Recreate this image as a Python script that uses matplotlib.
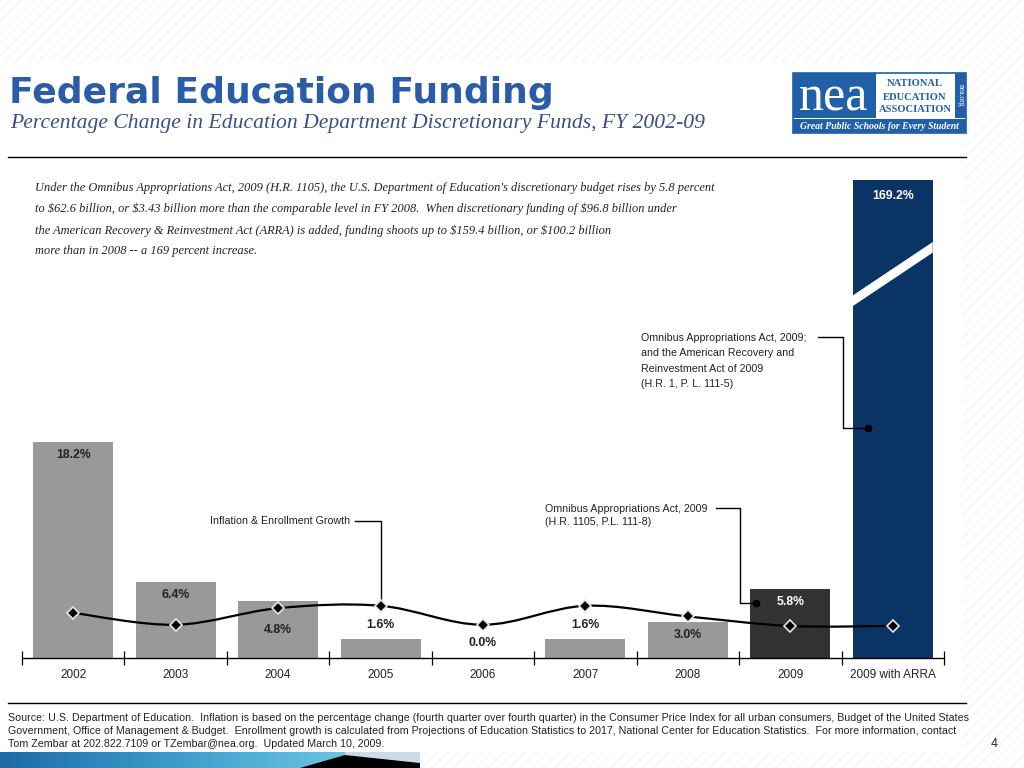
import numpy as np
import matplotlib
matplotlib.use("Agg")
import matplotlib.pyplot as plt
from matplotlib.path import Path
from matplotlib.patches import PathPatch, Rectangle, Polygon
from matplotlib.lines import Line2D
from matplotlib.colors import LinearSegmentedColormap

# ---------------- data ----------------
categories = ['2002', '2003', '2004', '2005', '2006', '2007', '2008', '2009', '2009 with ARRA']
funding_change = [18.2, 6.4, 4.8, 1.6, 0.0, 1.6, 3.0, 5.8, 169.2]
inflation_enrollment = [3.8, 2.8, 4.2, 4.4, 2.8, 4.4, 3.5, 2.7, 2.7]

# ---------------- layout / style ----------------
W, H = 1024, 768
SANS = 'Liberation Sans'
SERIF = 'Liberation Serif'
BAR_CAP = 40.3                      # axis break for the off-scale bar
bar_colors = ['#999999'] * 7 + ['#333333', '#0b3466']
label_colors = ['#222222'] * 7 + ['white', 'white']
label_y = [17.1, 5.3, 2.35, 2.8, 1.25, 2.8, 1.95, 4.7, 38.9]
BLUE = '#2b5ca8'

fig = plt.figure(figsize=(W / 100, H / 100), dpi=100)


def fx(x):
    return x / W


def fy(y):
    return 1 - y / H


# background hatch (template)
plt.rcParams['hatch.linewidth'] = 0.6
fig.add_artist(Rectangle((0, 0), 1, 1, transform=fig.transFigure, facecolor='white',
                         edgecolor='#f0f0f4', hatch='///', lw=0, zorder=-20))
fig.add_artist(Rectangle((fx(0), fy(700)), fx(962), (700 - 62) / H, transform=fig.transFigure,
                         facecolor='white', edgecolor='none', zorder=-19))
fig.add_artist(Rectangle((fx(0), fy(752)), fx(962), (752 - 700) / H, transform=fig.transFigure,
                         facecolor='white', edgecolor='none', zorder=-19))

# ---------------- main chart ----------------
ax = fig.add_axes([fx(22), fy(658), (944 - 22) / W, (658 - 159.5) / H])
ax.set_xlim(-0.5, 8.5)
ax.set_ylim(0, 42)
ax.patch.set_alpha(0)
xs = np.arange(len(categories))

heights = [min(v, BAR_CAP) for v in funding_change]
ax.bar(xs, heights, width=0.78, color=bar_colors, zorder=2)

# axis-break slash on the off-scale bar
i_brk = len(categories) - 1
x0, x1 = i_brk - 0.39, i_brk + 0.39
ya, yb, th = 30.1, 34.6, 0.45
ax.add_patch(Polygon([(x0, ya - th), (x1, yb - th), (x1, yb + th), (x0, ya + th)],
                     closed=True, facecolor='white', edgecolor='none', zorder=3))

for i, v in enumerate(funding_change):
    ax.text(xs[i], label_y[i], f'{v:.1f}%', ha='center', va='center', fontsize=8.8,
            fontweight='bold', color=label_colors[i], family=SANS, zorder=6)

# smooth inflation & enrollment line
pts = np.column_stack([xs, inflation_enrollment]).astype(float)
n = len(pts)
verts = [pts[0]]
codes = [Path.MOVETO]
for i in range(n - 1):
    p0 = pts[max(i - 1, 0)]
    p1 = pts[i]
    p2 = pts[i + 1]
    p3 = pts[min(i + 2, n - 1)]
    c1 = p1 + (p2 - p0) / 6.0
    c2 = p2 - (p3 - p1) / 6.0
    verts += [c1, c2, p2]
    codes += [Path.CURVE4] * 3
ax.add_patch(PathPatch(Path(verts, codes), fill=False, lw=1.6, edgecolor='black', zorder=4))
ax.plot(xs, inflation_enrollment, ls='none', marker='D', ms=6, mfc='black',
        mec='#e6e6e6', mew=1.2, zorder=5)

# axis
ax.set_xticks(xs)
ax.set_xticklabels(categories, family=SANS, fontsize=8.5, color='#222222')
ax.tick_params(axis='x', which='major', length=0, pad=8)
ax.set_xticks(np.arange(-0.5, len(categories), 1.0), minor=True)
ax.tick_params(axis='x', which='minor', length=10, width=0.9, direction='inout', color='black')
ax.set_yticks([])
for s in ['top', 'left', 'right']:
    ax.spines[s].set_visible(False)
ax.spines['bottom'].set_linewidth(1.0)

# annotations
ann_kw = dict(fontsize=7.7, family=SANS, color='#222222')
ax.text(2.70, 11.54, 'Inflation & Enrollment Growth', ha='right', va='center', **ann_kw)
ax.plot([2.75, 3, 3], [11.54, 11.54, inflation_enrollment[3]], color='black', lw=1,
        zorder=4, clip_on=False)

ax.text(4.605, 12.98, 'Omnibus Appropriations Act, 2009\n(H.R. 1105, P.L. 111-8)',
        ha='left', va='top', linespacing=1.35, **ann_kw)
ax.plot([6.27, 6.51, 6.51, 6.665], [12.64, 12.64, 4.63, 4.63], color='black', lw=1,
        zorder=4, clip_on=False)
ax.plot([6.665], [4.63], marker='o', ms=4.5, color='black', zorder=6)

ax.text(5.54, 27.4, 'Omnibus Appropriations Act, 2009;\nand the American Recovery and\n'
        'Reinvestment Act of 2009\n(H.R. 1, P. L. 111-5)',
        ha='left', va='top', linespacing=1.68, **ann_kw)
ax.plot([7.27, 7.51, 7.51, 7.76], [27.04, 27.04, 19.38, 19.38], color='black', lw=1,
        zorder=4, clip_on=False)
ax.plot([7.76], [19.38], marker='o', ms=4.5, color='black', zorder=6)

# ---------------- header ----------------
fig.text(fx(9), fy(103), 'Federal Education Funding', fontsize=26, fontweight='bold',
         color=BLUE, family='DejaVu Sans', va='baseline')
fig.text(fx(10), fy(128), 'Percentage Change in Education Department Discretionary Funds, FY 2002-09',
         fontsize=15.6, style='italic', family=SERIF, color='#3b4f85', va='baseline')
fig.add_artist(Line2D([fx(8), fx(966)], [fy(157), fy(157)], lw=1, color='black',
                      transform=fig.transFigure))

para = ("Under the Omnibus Appropriations Act, 2009 (H.R. 1105), the U.S. Department of Education's "
        "discretionary budget rises by 5.8 percent\n"
        "to \\$62.6 billion, or \\$3.43 billion more than the comparable level in FY 2008.  When "
        "discretionary funding of \\$96.8 billion under\n"
        "the American Recovery & Reinvestment Act (ARRA) is added, funding shoots up to \\$159.4 "
        "billion, or \\$100.2 billion\n"
        "more than in 2008 -- a 169 percent increase.")
fig.text(fx(35), fy(182), para, fontsize=8.9, style='italic', family=SERIF, color='#222222',
         va='top', linespacing=1.93)

# ---------------- logo ----------------
LB = '#2160a8'
tf = fig.transFigure
fig.add_artist(Rectangle((fx(793), fy(133)), (966 - 793) / W, (133 - 73) / H, transform=tf,
                         facecolor='white', edgecolor=LB, lw=1.2))
fig.add_artist(Rectangle((fx(793), fy(118)), (876 - 793) / W, (118 - 73) / H, transform=tf,
                         facecolor=LB, edgecolor='none'))
fig.add_artist(Rectangle((fx(955), fy(118)), (966 - 955) / W, (118 - 73) / H, transform=tf,
                         facecolor=LB, edgecolor='none'))
fig.add_artist(Rectangle((fx(793), fy(133)), (966 - 793) / W, (133 - 119) / H, transform=tf,
                         facecolor=LB, edgecolor='none'))
fig.text(fx(834), fy(98), 'nea', fontsize=36, color='white', family=SERIF, ha='center',
         va='center')
for k, word in enumerate(['NATIONAL', 'EDUCATION', 'ASSOCIATION']):
    fig.text(fx(915), fy(84 + 13 * k), word, fontsize=7.6, fontweight='bold', color=LB,
             family=SERIF, ha='center', va='center')
fig.text(fx(960.5), fy(95.5), 'nea.org', fontsize=5.5, color='white', family=SERIF,
         rotation=-90, ha='center', va='center')
fig.text(fx(879.5), fy(126.5), 'Great Public Schools for Every Student', fontsize=7,
         style='italic', fontweight='bold', color='white', family=SERIF, ha='center', va='center')

# ---------------- footer ----------------
fig.add_artist(Line2D([fx(8), fx(966)], [fy(703), fy(703)], lw=1, color='black',
                      transform=fig.transFigure))
src = ("Source: U.S. Department of Education.  Inflation is based on the percentage change (fourth "
       "quarter over fourth quarter) in the Consumer Price Index for all urban consumers, Budget of "
       "the United States\n"
       "Government, Office of Management & Budget.  Enrollment growth is calculated from Projections "
       "of Education Statistics to 2017, National Center for Education Statistics.  For more "
       "information, contact\n"
       "Tom Zembar at 202.822.7109 or TZembar@nea.org.  Updated March 10, 2009.")
fig.text(fx(8), fy(713), src, fontsize=7.68, family=SANS, color='#222222', va='top',
         linespacing=1.35)
fig.text(fx(994), fy(744), '4', fontsize=9, family=SANS, color='#222222', ha='center',
         va='center')

# bottom decoration
dax = fig.add_axes([0, 0, 420 / W, 16 / H])
dax.set_xlim(0, 420)
dax.set_ylim(768, 752)
dax.axis('off')
grad = np.linspace(0, 1, 256)[None, :]
cm = LinearSegmentedColormap.from_list('g', ['#1e6aa6', '#3a9ccc', '#6cc4e4'])
dax.imshow(grad, extent=[0, 345, 768, 752], aspect='auto', cmap=cm)
dax.add_patch(Polygon([(345, 752), (420, 752), (420, 763), (345, 755)], facecolor='#c8dbe6',
                      edgecolor='none'))
dax.add_patch(Polygon([(300, 768), (345, 755), (420, 763), (420, 768)], facecolor='black',
                      edgecolor='none'))

fig.savefig('out.png', dpi=100)
